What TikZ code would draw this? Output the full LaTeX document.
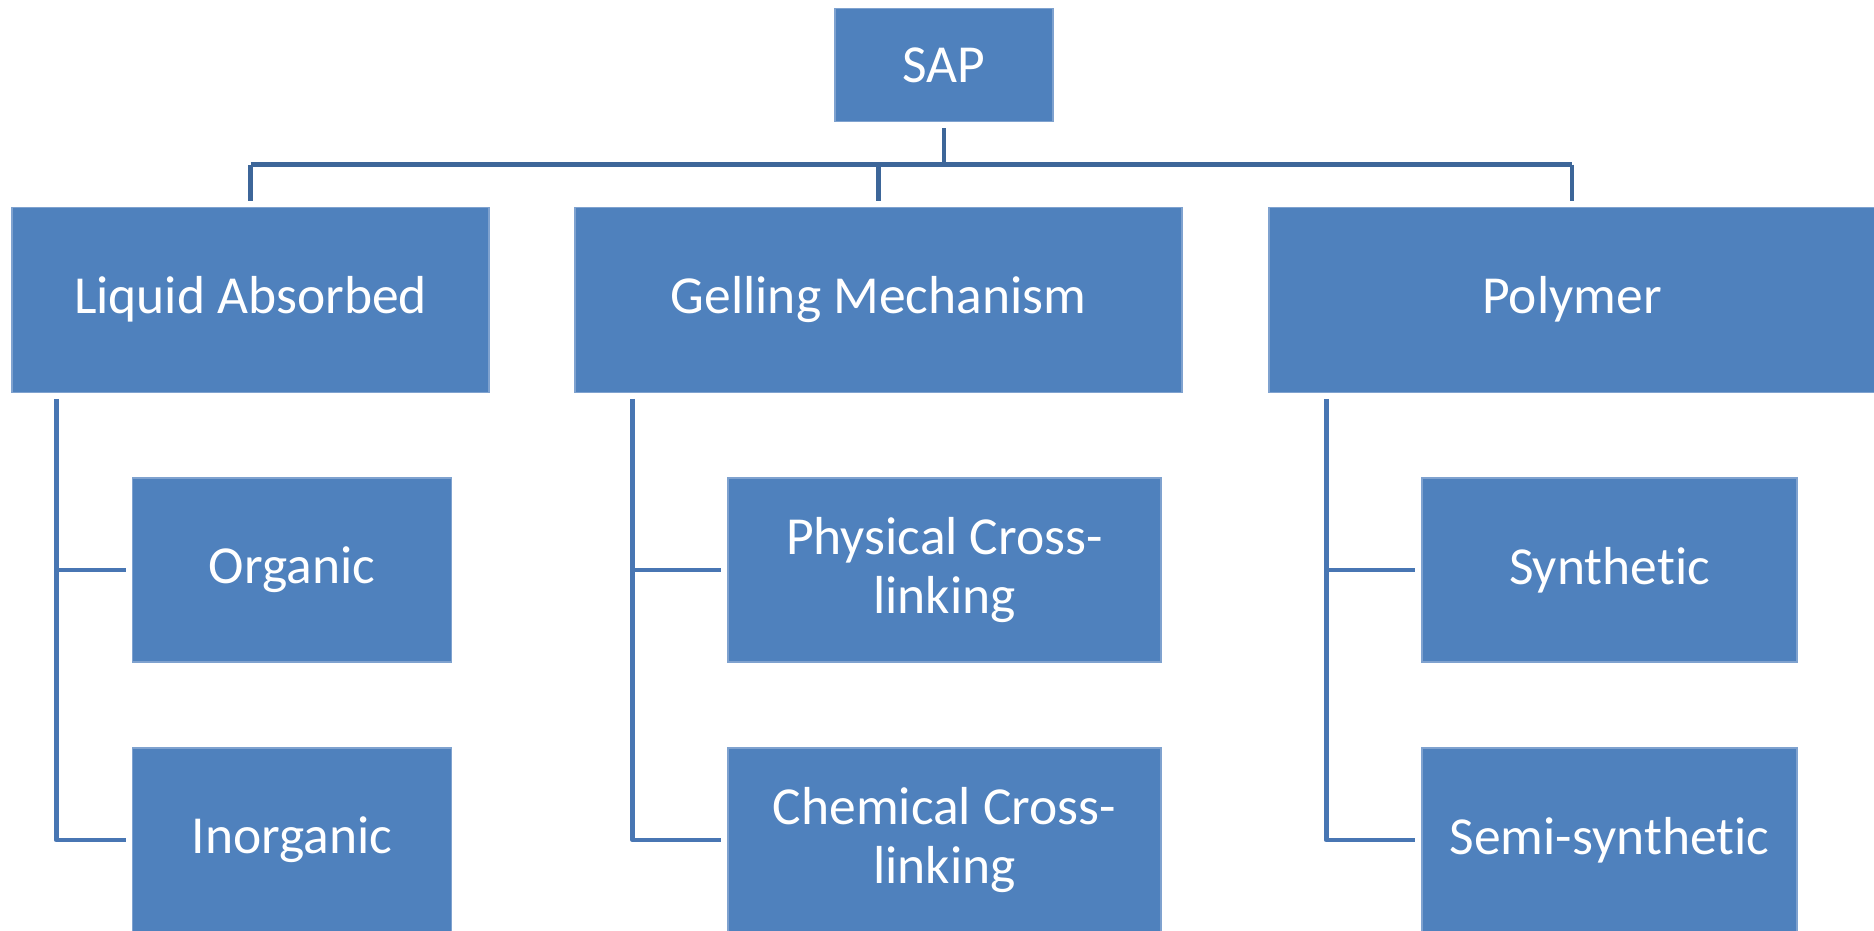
\documentclass[tikz,border=0pt]{standalone}
\usepackage{fontspec}
\setmainfont[Ligatures=NoCommon]{Carlito}
\definecolor{boxfill}{HTML}{4F81BD}
\definecolor{boxedge}{HTML}{7FA2CF}
\definecolor{topln}{HTML}{3D6699}
\definecolor{subln}{HTML}{4876B3}
\tikzset{
  box/.style={rectangle, fill=boxfill, draw=boxedge, line width=1.2pt, inner sep=0pt,
    text=white, align=center, font=\fontsize{53.5}{59}\selectfont},
  topline/.style={draw=topln, line width=4.3pt, line join=round},
  subline/.style={draw=subln, line width=4.8pt, line join=round}
}
\begin{document}
\begin{tikzpicture}[x=1pt,y=-1pt]
\useasboundingbox (0,0) rectangle (1874,931);
% root
\node[box, minimum width=218pt, minimum height=113pt] (sap) at (944,65) {SAP};
% level 1
\node[box, minimum width=477pt, minimum height=185pt] (la) at (250.5,299.7) {Liquid Absorbed};
\node[box, minimum width=607pt, minimum height=185pt] (gm) at (878.5,299.7) {Gelling Mechanism};
\node[box, minimum width=606pt, minimum height=185pt] (po) at (1572,299.7) {Polymer};
% level 2
\node[box, minimum width=319pt, minimum height=184pt] (org) at (292,570) {Organic};
\node[box, minimum width=319pt, minimum height=184pt] (inorg) at (292,840) {Inorganic};
\node[box, minimum width=433pt, minimum height=184pt] (phys) at (944.5,570) {Physical Cross-\\linking};
\node[box, minimum width=433pt, minimum height=184pt] (chem) at (944.5,840) {Chemical Cross-\\linking};
\node[box, minimum width=375pt, minimum height=184pt] (syn) at (1609.5,570) {Synthetic};
\node[box, minimum width=375pt, minimum height=184pt] (semi) at (1609.5,840) {Semi-synthetic};
% top connectors
\coordinate (bus) at (0,164.5);
\draw[topline, shorten <=6pt] (sap.south) -- (sap.south |- bus);
\draw[topline] (la.north |- bus) -- (po.north |- bus);
\draw[topline, shorten >=5.5pt] (la.north |- bus) -- (la.north);
\draw[topline, shorten >=5.5pt] (gm.north |- bus) -- (gm.north);
\draw[topline, shorten >=5.5pt] (po.north |- bus) -- (po.north);
% lower connectors
\coordinate (lav) at ([xshift=45pt]la.south west);
\coordinate (gmv) at ([xshift=58.4pt]gm.south west);
\coordinate (pov) at ([xshift=58pt]po.south west);
\draw[subline, shorten <=6pt, shorten >=6pt] (lav) |- (inorg.west);
\draw[subline, shorten >=6pt] (lav |- org.west) -- (org.west);
\draw[subline, shorten <=6pt, shorten >=6pt] (gmv) |- (chem.west);
\draw[subline, shorten >=6pt] (gmv |- phys.west) -- (phys.west);
\draw[subline, shorten <=6pt, shorten >=6pt] (pov) |- (semi.west);
\draw[subline, shorten >=6pt] (pov |- syn.west) -- (syn.west);
\end{tikzpicture}
\end{document}
